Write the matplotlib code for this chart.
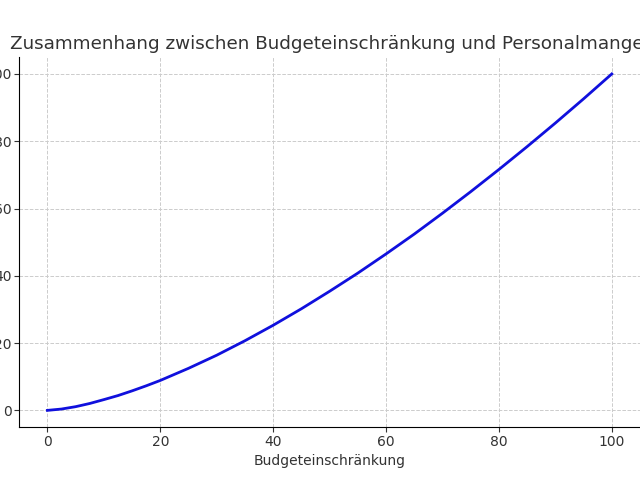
import matplotlib
matplotlib.use("Agg")
import matplotlib.pyplot as plt

x = [0, 2.5, 5, 7.5, 10, 12.5, 15, 17.5, 20, 25, 30, 35, 40, 45, 50, 55, 60, 65, 70, 75, 80, 85, 90, 95, 100]
y = [0, 0.4, 1.1, 2.05, 3.2, 4.4, 5.8, 7.3, 8.9, 12.5, 16.4, 20.7, 25.3, 30.2, 35.4, 40.8, 46.5, 52.4, 58.6, 65.0, 71.6, 78.4, 85.4, 92.6, 100]

fig = plt.figure(figsize=(6.4, 4.8), dpi=100)
ax = fig.add_axes([0.03, 0.11, 0.97, 0.771])
ax.plot(x, y, color="#1010dd", lw=2)
ax.set_xlim(-5, 105)
ax.set_ylim(-5, 105)
ax.grid(True, ls="--", color="#cccccc", lw=0.7)
for s in ["top", "right"]:
    ax.spines[s].set_visible(False)
ax.tick_params(colors="#333333", labelsize=10, pad=2)
ax.set_xlabel("Budgeteinschränkung", color="#333333", fontsize=10)
ax.set_title("Zusammenhang zwischen Budgeteinschränkung und Personalmangel", fontsize=13.2, color="#333333")
fig.savefig("out.png", dpi=100)
